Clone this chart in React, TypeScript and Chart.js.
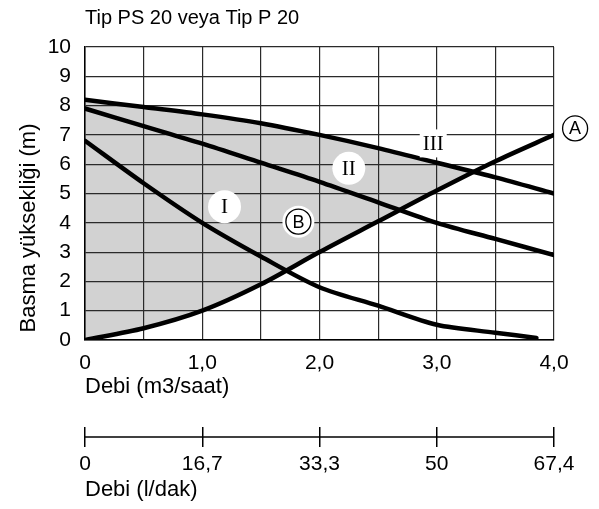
import React, { useEffect, useRef } from 'react';
import { Chart, registerables } from 'chart.js';

Chart.register(...registerables);

// ---- data ----
const chartTitle = 'Tip PS 20 veya Tip P 20';
const yAxisTitle = 'Basma yüksekliği (m)';
const xAxisTitle = 'Debi (m3/saat)';
const x2AxisTitle = 'Debi (l/dak)';

const flowM3h = [0, 0.5, 1, 1.5, 2, 2.5, 3, 3.5, 4];
const headIII = [8.2, 7.95, 7.7, 7.4, 7.0, 6.55, 6.05, 5.55, 5.0];
const headII = [7.9, 7.3, 6.7, 6.05, 5.4, 4.7, 4.0, 3.45, 2.9];
const flowI = [0, 0.5, 1, 1.5, 2, 2.5, 3, 3.5, 3.85];
const headI = [6.8, 5.35, 4.0, 2.85, 1.8, 1.17, 0.52, 0.25, 0.07];
const headA = [0, 0.4, 1.0, 1.9, 3.0, 4.05, 5.1, 6.1, 7.0];

const xTickLabels = ['0', '1,0', '2,0', '3,0', '4,0'];
const lpmTickLabels = ['0', '16,7', '33,3', '50', '67,4'];

const curveLabels = [
  { text: 'I', q: 1.19, h: 4.55, kind: 'disc' },
  { text: 'II', q: 2.25, h: 5.86, kind: 'disc' },
  { text: 'III', q: 2.97, h: 6.71, kind: 'box' },
  { text: 'B', q: 1.82, h: 4.04, kind: 'ring' },
  { text: 'A', q: 4.18, h: 7.22, kind: 'ringOnly' },
];

const SANS = '"Liberation Sans", Arial, sans-serif';
const SERIF = '"Liberation Serif", "Times New Roman", serif';
const FILL_GRAY = '#d2d2d2';

const toPts = (xs: number[], ys: number[]) => xs.map((x, i) => ({ x, y: ys[i] }));

const annotatePlugin = {
  id: 'annotate',
  afterDraw(chart: any) {
    const ctx = chart.ctx as CanvasRenderingContext2D;
    const xs = chart.scales.x;
    const ys = chart.scales.y;
    const x2 = chart.scales.x2;
    const area = chart.chartArea;
    ctx.save();
    // second flow axis line
    ctx.strokeStyle = '#000';
    ctx.lineWidth = 1.5;
    const ly = x2.top + 10;
    ctx.beginPath();
    ctx.moveTo(xs.getPixelForValue(0), ly);
    ctx.lineTo(xs.getPixelForValue(4), ly);
    ctx.stroke();

    // chart title
    ctx.fillStyle = '#000';
    ctx.font = `20px ${SANS}`;
    ctx.textAlign = 'left';
    ctx.textBaseline = 'middle';
    ctx.fillText(chartTitle, area.left, 18);

    // y title
    ctx.save();
    ctx.font = `22px ${SANS}`;
    ctx.translate(29, area.top + 181);
    ctx.rotate(-Math.PI / 2);
    ctx.textAlign = 'center';
    ctx.textBaseline = 'middle';
    ctx.fillText(yAxisTitle, 0, 0);
    ctx.restore();

    // curve labels
    for (const lb of curveLabels) {
      const px = xs.getPixelForValue(lb.q);
      const py = ys.getPixelForValue(lb.h);
      if (lb.kind === 'disc') {
        ctx.fillStyle = '#fff';
        ctx.beginPath();
        ctx.arc(px, py, 16.5, 0, Math.PI * 2);
        ctx.fill();
        ctx.fillStyle = '#000';
        ctx.font = `21px ${SERIF}`;
        ctx.textAlign = 'center';
        ctx.textBaseline = 'middle';
        ctx.fillText(lb.text, px, py + 1);
      } else if (lb.kind === 'box') {
        ctx.font = `21px ${SERIF}`;
        const w = ctx.measureText(lb.text).width + 6;
        ctx.fillStyle = '#fff';
        ctx.fillRect(px - w / 2, py - 14, w, 28);
        ctx.fillStyle = '#000';
        ctx.textAlign = 'center';
        ctx.textBaseline = 'middle';
        ctx.fillText(lb.text, px, py + 1);
      } else {
        if (lb.kind === 'ring') {
          ctx.fillStyle = '#fff';
          ctx.beginPath();
          ctx.arc(px, py, 16, 0, Math.PI * 2);
          ctx.fill();
        }
        ctx.strokeStyle = '#000';
        ctx.lineWidth = 1.3;
        ctx.beginPath();
        ctx.arc(px, py, 12.5, 0, Math.PI * 2);
        ctx.stroke();
        ctx.fillStyle = '#000';
        ctx.font = `18px ${SANS}`;
        ctx.textAlign = 'center';
        ctx.textBaseline = 'middle';
        ctx.fillText(lb.text, px, py + 1);
      }
    }
    ctx.restore();
  },
};

export default function App() {
  const ref = useRef<HTMLCanvasElement | null>(null);

  useEffect(() => {
    document.body.style.margin = '0';
    const canvas = ref.current;
    if (!canvas) return;
    const lineStyle = {
      borderColor: '#000',
      borderWidth: 4.5,
      pointRadius: 0,
      tension: 0.3,
      borderCapStyle: 'round' as const,
    };
    const tickFont = { family: SANS, size: 21 };
    const titleFont = { family: SANS, size: 22 };
    const chart = new Chart(canvas, {
      type: 'line',
      data: {
        datasets: [
          {
            label: 'III',
            data: toPts(flowM3h, headIII),
            fill: { target: 1, above: FILL_GRAY, below: 'rgba(0,0,0,0)' },
            ...lineStyle,
          },
          { label: 'A', data: toPts(flowM3h, headA), fill: false, ...lineStyle },
          { label: 'II', data: toPts(flowM3h, headII), fill: false, ...lineStyle },
          { label: 'I', data: toPts(flowI, headI), fill: false, ...lineStyle },
        ],
      },
      options: {
        responsive: false,
        animation: false,
        events: [],
        layout: { padding: { top: 47, right: 45, left: 0, bottom: 0 } },
        plugins: {
          legend: { display: false },
          title: { display: false },
          tooltip: { enabled: false },
          filler: { drawTime: 'beforeDraw' },
        } as any,
        scales: {
          x: {
            type: 'linear',
            position: 'bottom',
            weight: 0,
            min: 0,
            max: 4,
            ticks: {
              stepSize: 0.5,
              autoSkip: false,
              maxRotation: 0,
              padding: 11,
              color: '#000',
              font: tickFont,
              callback: (v: any) => (Number.isInteger(v) ? xTickLabels[v] : ''),
            },
            grid: { color: '#2a2a2a', lineWidth: 1.2, drawTicks: false },
            border: { color: '#000', width: 1.5 },
            title: {
              display: true,
              text: xAxisTitle,
              align: 'start',
              color: '#000',
              font: titleFont,
              padding: { top: 0, bottom: 27 },
            },
            afterFit: (s: any) => {
              s.height = 87;
            },
          },
          x2: {
            type: 'linear',
            position: 'bottom',
            weight: 1,
            min: 0,
            max: 4,
            ticks: {
              stepSize: 1,
              autoSkip: false,
              maxRotation: 0,
              padding: 5,
              color: '#000',
              font: tickFont,
              callback: (v: any) => lpmTickLabels[v],
            },
            grid: { drawOnChartArea: false, tickLength: 20, color: '#000', lineWidth: 1.5 },
            border: { display: false },
            title: {
              display: true,
              text: x2AxisTitle,
              align: 'start',
              color: '#000',
              font: titleFont,
              padding: { top: 0, bottom: 6 },
            },
            afterFit: (s: any) => {
              s.height = 82;
            },
          },
          y: {
            type: 'linear',
            min: 0,
            max: 10,
            ticks: { stepSize: 1, autoSkip: false, padding: 14, color: '#000', font: tickFont },
            grid: { color: '#2a2a2a', lineWidth: 1.2, drawTicks: false },
            border: { color: '#000', width: 1.5 },
            afterFit: (s: any) => {
              s.width = 85;
            },
          },
        } as any,
      },
      plugins: [annotatePlugin],
    });
    return () => chart.destroy();
  }, []);

  return (
    <div style={{ width: 599, height: 509 }}>
      <canvas ref={ref} width={599} height={509} style={{ display: 'block' }} />
    </div>
  );
}
